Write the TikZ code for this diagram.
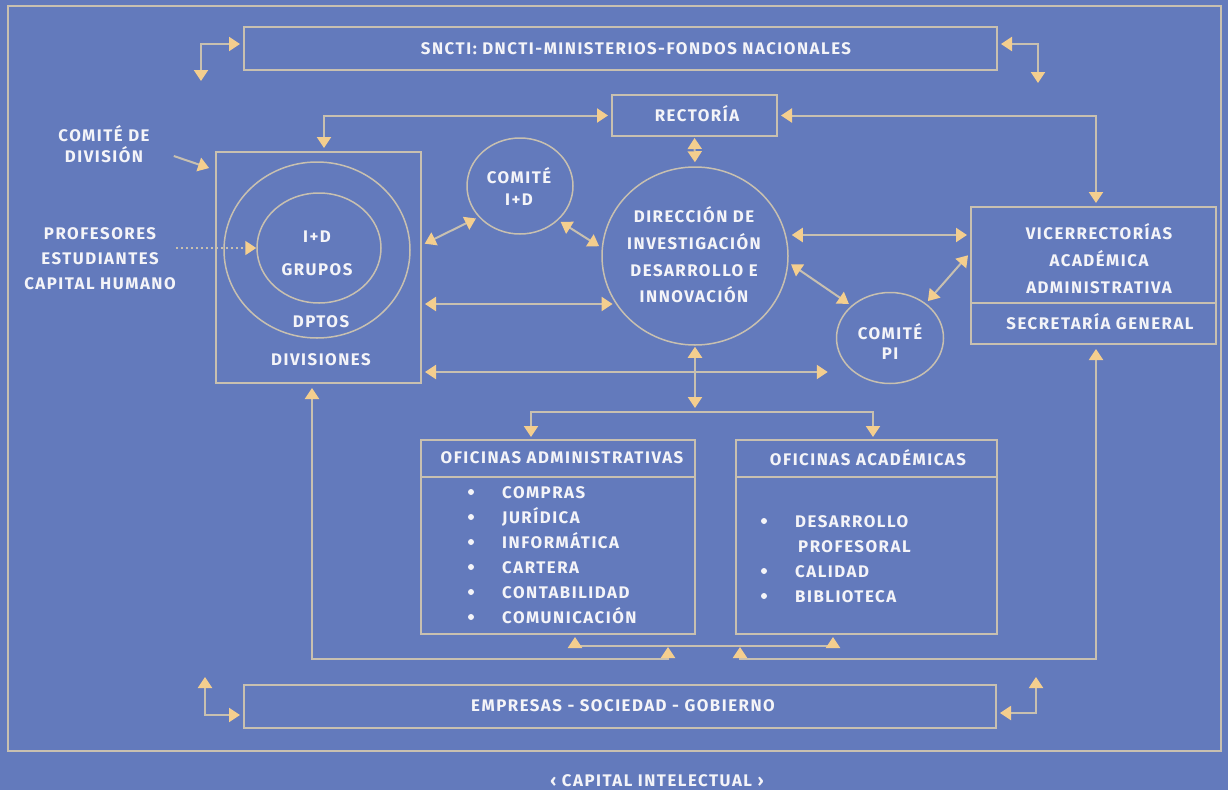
\documentclass[tikz,border=0pt]{standalone}
\usepackage{fontspec}
\setmainfont{Fira Sans}[LetterSpace=9]
\usetikzlibrary{arrows.meta,shapes.geometric}
\definecolor{bgblue}{RGB}{99,122,188}
\definecolor{linec}{RGB}{200,192,176}
\definecolor{headc}{RGB}{244,206,142}
\definecolor{txtc}{RGB}{244,244,248}
\tikzset{
  ln/.style={draw=linec, line width=2pt},
  boxst/.style={ln, rectangle, inner sep=0pt},
  ellst/.style={draw=linec, line width=1.5pt, ellipse, inner sep=0pt},
  lbl/.style={text=txtc, font=\bfseries\fontsize{16.8}{26}\selectfont, align=center, inner sep=0pt},
  item/.style={text=txtc, font=\bfseries\fontsize{16.8}{25}\selectfont, anchor=base west, inner sep=0pt},
  dot/.style={circle, fill=txtc, minimum size=6pt, inner sep=0pt},
  darr/.style={ln, <->, shorten <=3pt, shorten >=3pt},
  sarr/.style={ln, ->, shorten >=3pt},
}
\begin{document}
\begin{tikzpicture}[x=1pt, y=-1pt, >={Triangle[width=14pt,length=11pt,color=headc]}]
\fill[bgblue] (0,0) rectangle (1228,790);
\useasboundingbox (0,0) rectangle (1228,790);
% outer frame
\draw[ln] (8,6) rectangle (1221,751);

% boxes
\node[boxst, minimum width=753pt, minimum height=43pt] (sncti) at (620.5,48.5) {};
\node[lbl] (snctit) at (636,49) {SNCTI: DNCTI-MINISTERIOS-FONDOS NACIONALES};
\node[boxst, minimum width=165pt, minimum height=41pt] (rect) at (694.5,115.5) {};
\node[lbl] (rectt) at (697,114) {RECTORÍA};
\node[boxst, minimum width=205pt, minimum height=231pt] (div) at (318.5,267.5) {};
\node[ellst, minimum width=186pt, minimum height=176pt] (outD) at (317,250) {};
\node[ellst, minimum width=124pt, minimum height=110pt] (inID) at (319,248) {};
\node[lbl] (idt) at (317,237) {I+D};
\node[lbl] (grt) at (317,270) {GRUPOS};
\node[lbl] (dpt) at (321,322) {DPTOS};
\node[lbl] (dvt) at (321,360) {DIVISIONES};

\node[ellst, minimum width=106pt, minimum height=96pt] (comID) at (520,186) {};
\node[lbl, font=\bfseries\fontsize{16.8}{22}\selectfont] (comIDt) at (519,186) {COMITÉ\\I+D};
\node[ellst, minimum width=186pt, minimum height=178pt] (dir) at (695,256) {};
\node[lbl, font=\bfseries\fontsize{16.8}{26.7}\selectfont] (dirt) at (694,255) {DIRECCIÓN DE\\INVESTIGACIÓN\\DESARROLLO E\\INNOVACIÓN};
\node[ellst, minimum width=107pt, minimum height=91pt] (comPI) at (890,338) {};
\node[lbl, font=\bfseries\fontsize{16.8}{20}\selectfont] (comPIt) at (890,341) {COMITÉ\\PI};

\node[boxst, minimum width=245pt, minimum height=137pt] (vice) at (1093.5,275.5) {};
\draw[ln] (vice.west |- 0,303) -- (vice.east |- 0,303);
\node[lbl, font=\bfseries\fontsize{16.8}{27}\selectfont] (vicet) at (1099,259) {VICERRECTORÍAS\\ACADÉMICA\\ADMINISTRATIVA};
\node[lbl] (secgt) at (1100,322) {SECRETARÍA GENERAL};

\node[boxst, minimum width=274pt, minimum height=194pt] (ofadm) at (558,537) {};
\draw[ln] (ofadm.west |- 0,477) -- (ofadm.east |- 0,477);
\node[lbl] (ofadmt) at (562,458) {OFICINAS ADMINISTRATIVAS};
\node[boxst, minimum width=261pt, minimum height=194pt] (ofac) at (866.5,537) {};
\draw[ln] (ofac.west |- 0,477) -- (ofac.east |- 0,477);
\node[lbl] (ofact) at (868,458) {OFICINAS ACADÉMICAS};

% list items with bullets
\foreach \t [count=\i] in {COMPRAS,JURÍDICA,INFORMÁTICA,CARTERA,CONTABILIDAD,COMUNICACIÓN}{
  \node[item] (adm\i) at (502,{473+25*\i}) {\t};
  \node[dot] (admb\i) at (471,{467+25*\i}) {};
}
\node[item] (ac1) at (795,527) {DESARROLLO};
\node[item] (ac1b) at (798,552) {PROFESORAL};
\node[item] (ac2) at (795,577) {CALIDAD};
\node[item] (ac3) at (795,602) {BIBLIOTECA};
\node[dot] (ac1d) at (764,521) {};
\node[dot] (ac2d) at (764,571) {};
\node[dot] (ac3d) at (764,596) {};

\node[boxst, minimum width=752pt, minimum height=43pt] (emp) at (620,706.5) {};
\node[lbl] (empt) at (623,706) {EMPRESAS - SOCIEDAD - GOBIERNO};

% side texts
\node[lbl, font=\bfseries\fontsize{16.8}{21}\selectfont] (cdiv) at (104,144) {COMITÉ DE\\DIVISIÓN};
\node[lbl, font=\bfseries\fontsize{16.8}{25}\selectfont] (prof) at (100,259) {PROFESORES\\ESTUDIANTES\\CAPITAL HUMANO};
\node[lbl] (capt) at (657,781) {‹ CAPITAL INTELECTUAL ›};

% free ends of connectors
\coordinate (tl) at (201,81);
\coordinate (tr) at (1038,83);
\coordinate (hub) at (695,412);
\coordinate (jn) at (704,646);
\coordinate (cL) at (668,659);
\coordinate (cLtip) at (668,647);
\coordinate (cR) at (740,659);
\coordinate (cRtip) at (740,647);
\coordinate (bl) at (205,677);
\coordinate (br) at (1036,677);

% connectors
\draw[darr, shorten <=0pt] (tl) |- ([yshift=4.5pt]sncti.west);
\draw[darr, shorten >=0pt] ([yshift=4.5pt]sncti.east) -| (tr);
\draw[darr] (rect.west) -| ([xshift=5.5pt]div.north);
\draw[darr] (rect.east) -| ([xshift=2.5pt]vice.north);
\draw[darr, shorten <=1pt, shorten >=4pt] (rect.south) -- (dir.north);
\draw[darr] ([yshift=22.5pt]div.east) -- (comID.217);
\draw[darr] (comID.-42) -- (dir.175);
\draw[darr] ([yshift=-36.5pt]div.east) -- ([yshift=-36.5pt]div.east -| dir.211);
\draw[darr, shorten >=8pt] ([yshift=-104.5pt]div.east) -- ([yshift=-104.5pt]div.east -| comPI.west);
\draw[darr] ([yshift=40.5pt]vice.west -| dir.east) -- ([yshift=40.5pt]vice.west);
\draw[darr] (dir.-4) -- (comPI.140);
\draw[darr] (comPI.44) -- ([yshift=22.5pt]vice.west);
\draw[darr, shorten <=1pt, shorten >=4pt] (dir.south) -- (hub);
\draw[ln, ->, shorten >=2pt] (hub) -| ([xshift=-27pt]ofadm.north);
\draw[ln, ->, shorten >=2pt] (hub) -| ([xshift=6.5pt]ofac.north);
\draw[ln, ->, shorten >=2pt] (jn) -| ([xshift=17pt]ofadm.south);
\draw[ln, ->, shorten >=2pt] (jn) -| ([xshift=-33.5pt]ofac.south);
\draw[ln, <->, shorten <=4pt] ([xshift=-6.5pt]div.south) |- (cL) -- (cLtip);
\draw[ln, <->, shorten <=4pt] ([xshift=2.5pt]vice.south) |- (cR) -- (cRtip);
\draw[darr, shorten <=0pt] (bl) |- ([yshift=-8.5pt]emp.west);
\draw[darr, shorten >=0pt] ([yshift=-6.5pt]emp.east) -| (br);
\draw[sarr] ([shift={(24pt,-12pt)}]cdiv.east) -- ([shift={(-3pt,-18pt)}]div.north west);
\draw[draw=linec, line width=1.8pt, dash pattern=on 1.8pt off 3.2pt, ->] (prof.east |- inID.west) -- (inID.west);
\end{tikzpicture}
\end{document}
